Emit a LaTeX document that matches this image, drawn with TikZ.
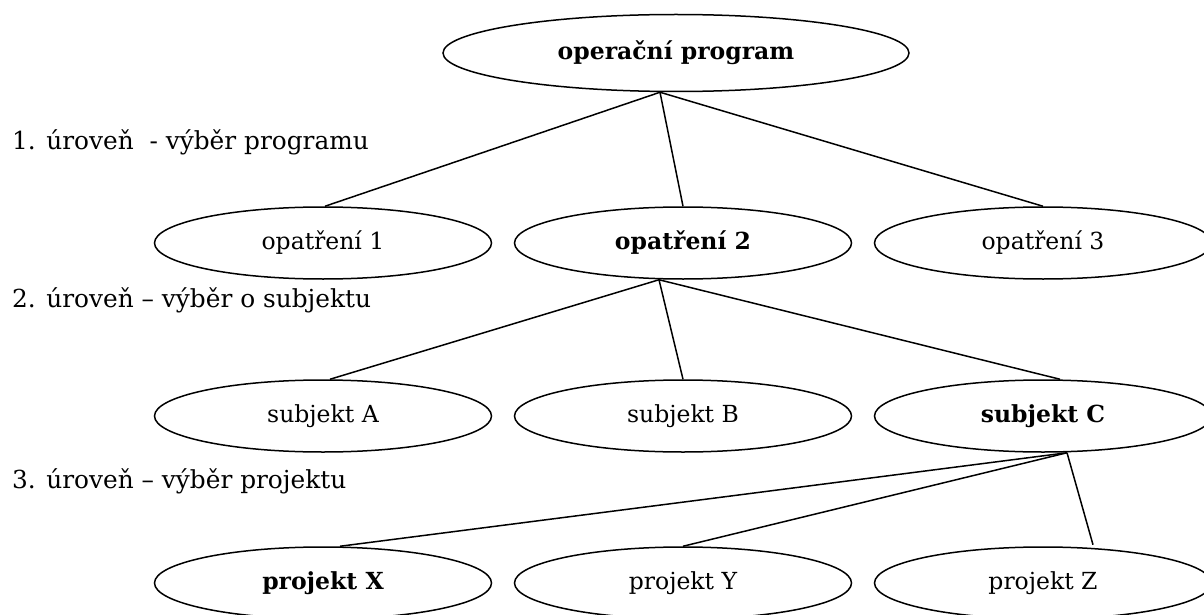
\documentclass[tikz,border=0pt]{standalone}
\usepackage{fontspec}
\setmainfont{DejaVu Serif}
\usetikzlibrary{shapes.geometric}
\tikzset{
  oval/.style={draw=black, line width=1.5pt, ellipse, inner sep=0pt,
    minimum width=337pt, minimum height=72pt, font=\fontsize{23.5}{27}\selectfont},
  topoval/.style={oval, minimum width=466pt, minimum height=77pt},
  levellabel/.style={anchor=west, inner sep=0pt, font=\fontsize{24.8}{28}\selectfont},
  link/.style={draw=black, line width=1.5pt}
}
\begin{document}
\begin{tikzpicture}[x=1pt, y=-1pt]
\useasboundingbox (0,0) rectangle (1204,615);
\node[topoval] (op) at (676,53) {\textbf{operační program}};
\node[oval] (o1) at (323,243) {opatření 1};
\node[oval] (o2) at (683,243) {\textbf{opatření 2}};
\node[oval] (o3) at (1043,243) {opatření 3};
\node[oval] (sA) at (323,416) {subjekt A};
\node[oval] (sB) at (683,416) {subjekt B};
\node[oval] (sC) at (1043,416) {\textbf{subjekt C}};
\node[oval] (pX) at (323,583) {\textbf{projekt X}};
\node[oval] (pY) at (683,583) {projekt Y};
\node[oval] (pZ) at (1043,583) {projekt Z};
\node[levellabel] (l1) at (12,142) {1. úroveň\ \ - výběr programu};
\node[levellabel] (l2) at (12,300) {2. úroveň – výběr o subjektu};
\node[levellabel] (l3) at (12,481) {3. úroveň – výběr projektu};
\draw[link] ([xshift=-16pt]op.south) -- ([xshift=2pt]o1.north);
\draw[link] ([xshift=-16pt]op.south) -- (o2.north);
\draw[link] ([xshift=-16pt]op.south) -- (o3.north);
\draw[link] ([xshift=-24pt]o2.south) -- ([xshift=7pt]sA.north);
\draw[link] ([xshift=-24pt]o2.south) -- (sB.north);
\draw[link] ([xshift=-24pt]o2.south) -- ([xshift=17pt]sC.north);
\draw[link] ([xshift=24pt]sC.south) -- ([xshift=17pt]pX.north);
\draw[link] ([xshift=24pt]sC.south) -- (pY.north);
\draw[link] ([xshift=24pt]sC.south) -- ([xshift=50pt,yshift=1.5pt]pZ.north);
\end{tikzpicture}
\end{document}
